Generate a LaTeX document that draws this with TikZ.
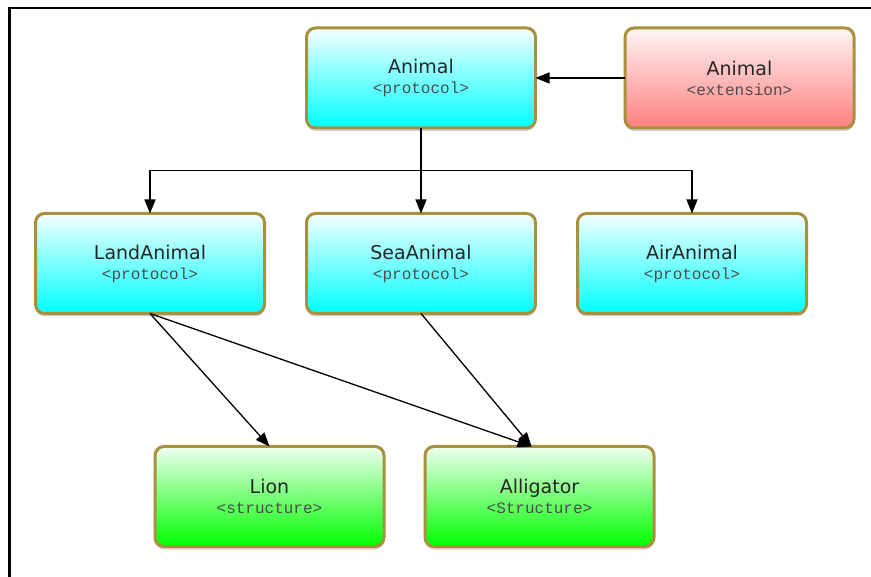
\documentclass[tikz,border=0pt]{standalone}
\usepackage{fontspec}
\setmainfont{DejaVu Sans}
\newfontfamily\stereofont{Liberation Mono}
\usepackage{tikz}
\usetikzlibrary{
        arrows.meta,
        calc,
        positioning,
        shadows
    }
\definecolor{rim}{RGB}{168,144,60}
\tikzset{>={Triangle[width=11pt,length=14pt]},auto,node distance=42pt}
\tikzset{box/.style={draw=rim,line width=3pt,rounded corners=9pt,
        minimum width=229pt,minimum height=100pt,outer sep=0pt,align=center,
        text=black!85,font=\fontsize{19}{20}\selectfont,
        drop shadow={shadow xshift=0pt,shadow yshift=-3pt,opacity=.35}}}
\tikzset{proto/.style={box,top color=cyan!4,middle color=cyan!50,bottom color=cyan}}
\tikzset{ext/.style={box,top color=red!4,middle color=red!28,bottom color=red!50}}
\tikzset{struct/.style={box,top color=green!6,middle color=green!42,bottom color=green}}
\newcommand{\stereo}[1]{{\stereofont\fontsize{16}{20}\selectfont\color{black!70}#1}}

\begin{document}
\begin{tikzpicture}[x=1pt,y=-1pt,line width=1.3pt]
                \useasboundingbox (0,0) rectangle (871,577);
                \draw[line width=2.5pt] (871,8) -- (9.5,8) -- (9.5,577);

                    \node[proto] (sea) at (421,263.5) {SeaAnimal\\\stereo{<protocol>}};
                    \node[proto] (land) [left=of sea] {LandAnimal\\\stereo{<protocol>}};
                    \node[proto] (air) [right=of sea] {AirAnimal\\\stereo{<protocol>}};
                    \node[proto] (animal) [above=85.5pt of sea] {Animal\\\stereo{<protocol>}};
                    \node[ext] (animalext) [right=89.5pt of animal] {Animal\\\stereo{<extension>}};
                    \node[struct] (lion) [below=133pt of land,xshift=119.5pt] {Lion\\\stereo{<structure>}};
                    \node[struct] (gator) [right=41pt of lion] {Alligator\\\stereo{<Structure>}};

                \coordinate (split) at ($(animal.south)!0.5!(sea.north)$);
                \coordinate (gatortop) at ([xshift=-8pt]gator.north);
                \draw[->] (animalext.west) -- (animal.east);
                \draw[->] (animal.south) -- (split) -| (land.north);
                \draw[->] (animal.south) -- (split) -| (air.north);
                \draw[->] (animal.south) -- (sea.north);
                \path[->]
                        (land.south) edge (lion.north)
                        (land.south) edge (gatortop)
                        (sea.south)  edge (gatortop)
                        ;
            \end{tikzpicture}
\end{document}
